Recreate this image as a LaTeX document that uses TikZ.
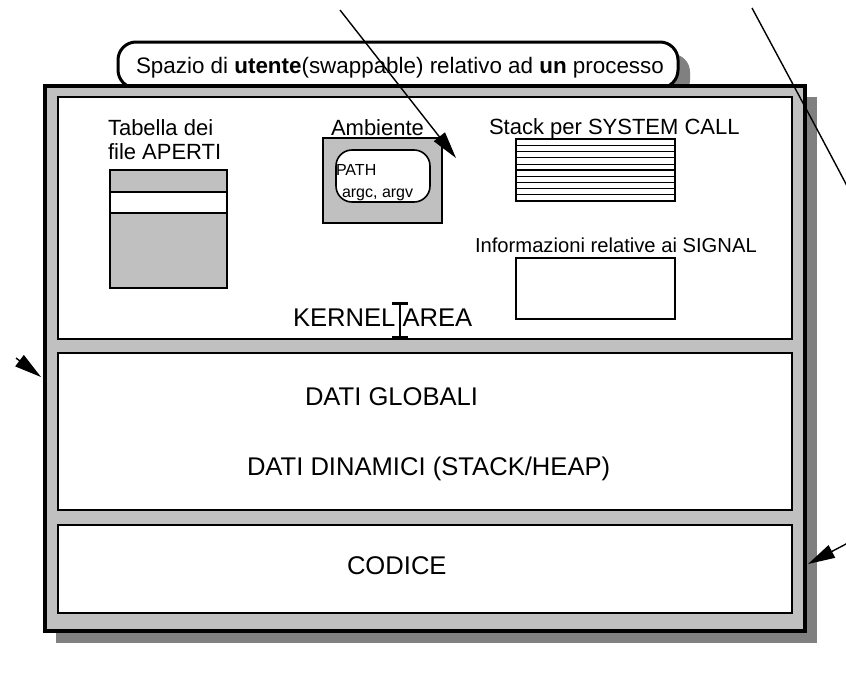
\documentclass[tikz,border=0pt]{standalone}
\usepackage{fontspec}
\setmainfont{Liberation Sans}
\usetikzlibrary{arrows.meta}
\definecolor{lgray}{HTML}{C0C0C0}
\definecolor{dgray}{HTML}{808080}
\newcommand{\fsTitle}{\fontsize{22.4}{26}\selectfont}
\newcommand{\fsMid}{\fontsize{22}{25}\selectfont}
\newcommand{\fsSig}{\fontsize{20.2}{24}\selectfont}
\newcommand{\fsBig}{\fontsize{25.6}{29}\selectfont}
\newcommand{\fsSmall}{\fontsize{16}{19}\selectfont}
\begin{document}
\begin{tikzpicture}[x=1pt,y=-1pt,
  lbl/.style={anchor=base west, inner sep=0pt, outer sep=0pt},
  inbox/.style={draw=black, line width=2pt, fill=white},
  graybox/.style={draw=black, line width=2pt, fill=lgray},
  pointer/.style={draw=black, line width=1.4pt},
  headA/.style={-{Triangle[length=27pt,width=14pt]}}
]
\useasboundingbox (0,0) rectangle (846,672);
\clip (0,0) rectangle (846,672);
\fill[white] (0,0) rectangle (846,672);

% title box with shadow
\fill[dgray, rounded corners=18pt] (130,54) rectangle (690,98);
\draw[line width=3pt, fill=white, rounded corners=18pt] (118,42) rectangle (678,88);
\node[lbl] (title) at (136,73) {\fsTitle Spazio di \textbf{utente}(swappable) relativo ad \textbf{un} processo};

% outer frame with shadow
\fill[dgray] (56,97) rectangle (817,643);
\draw[line width=3.5pt, fill=lgray] (45,86) rectangle (805,631);

% three inner areas
\draw[inbox] (58,97) rectangle (792,339);
\draw[inbox] (58,353) rectangle (792,510);
\draw[inbox] (58,525) rectangle (792,613);

% Tabella dei file APERTI
\node[lbl] (tab1) at (108,135) {\fsMid Tabella dei};
\node[lbl] (tab2) at (108,159) {\fsMid file APERTI};
\draw[graybox] (110,170) rectangle (227,288);
\draw[line width=2pt, fill=white] (110,192) rectangle (227,213);

% Ambiente
\node[lbl] (amb) at (331,135) {\fsMid Ambiente};
\draw[graybox] (323,138) rectangle (442,223);
\draw[line width=1.6pt, fill=white, rounded corners=16pt] (336,150) rectangle (430,202);
\node[lbl] (path) at (336,175) {\fsSmall PATH};
\node[lbl] (argc) at (342,197) {\fsSmall argc, argv};

% Stack per SYSTEM CALL
\node[lbl] (stk) at (489,134) {\fsMid Stack per SYSTEM CALL};
\draw[inbox] (516,139) rectangle (675,201);
\foreach \k in {1,...,9} {
  \pgfmathsetmacro{\yy}{139+\k*6.2}
  \pgfmathsetmacro{\lw}{mod(\k,2)==1 ? 1.1 : 0.6}
  \draw[line width=\lw pt] (516,\yy) -- (675,\yy);
}

% Informazioni relative ai SIGNAL
\node[lbl] (sig) at (475,252) {\fsSig Informazioni relative ai SIGNAL};
\draw[inbox] (516,258) rectangle (675,319);

% Kernel area
\node[lbl] (kern) at (293,326) {\fsBig KERNEL AREA};
\draw[line width=2.6pt] (400,304) -- (400,337);
\draw[line width=2.2pt] (392,303.5) -- (408,303.5);
\draw[line width=2.2pt] (392,337.5) -- (408,337.5);

% Dati
\node[lbl] (glob) at (305,405) {\fsBig DATI GLOBALI};
\node[lbl] (din) at (247,475) {\fsBig DATI DINAMICI (STACK/HEAP)};

% Codice
\node[lbl] (cod) at (347,574) {\fsBig CODICE};

% pointers
\coordinate (p1s) at (340,10);
\coordinate (p1e) at (456,158);
\draw[pointer, headA] (p1s) -- (p1e);

\coordinate (p2s) at (752,8);
\coordinate (p2e) at (808,564);
\draw[pointer, headA] (p2s) .. controls (1000,470) and (1000,463) .. (p2e);

\coordinate (p3s) at (16,358);
\coordinate (p3e) at (41,377);
\draw[pointer, headA] (p3s) -- (p3e);
\end{tikzpicture}
\end{document}
